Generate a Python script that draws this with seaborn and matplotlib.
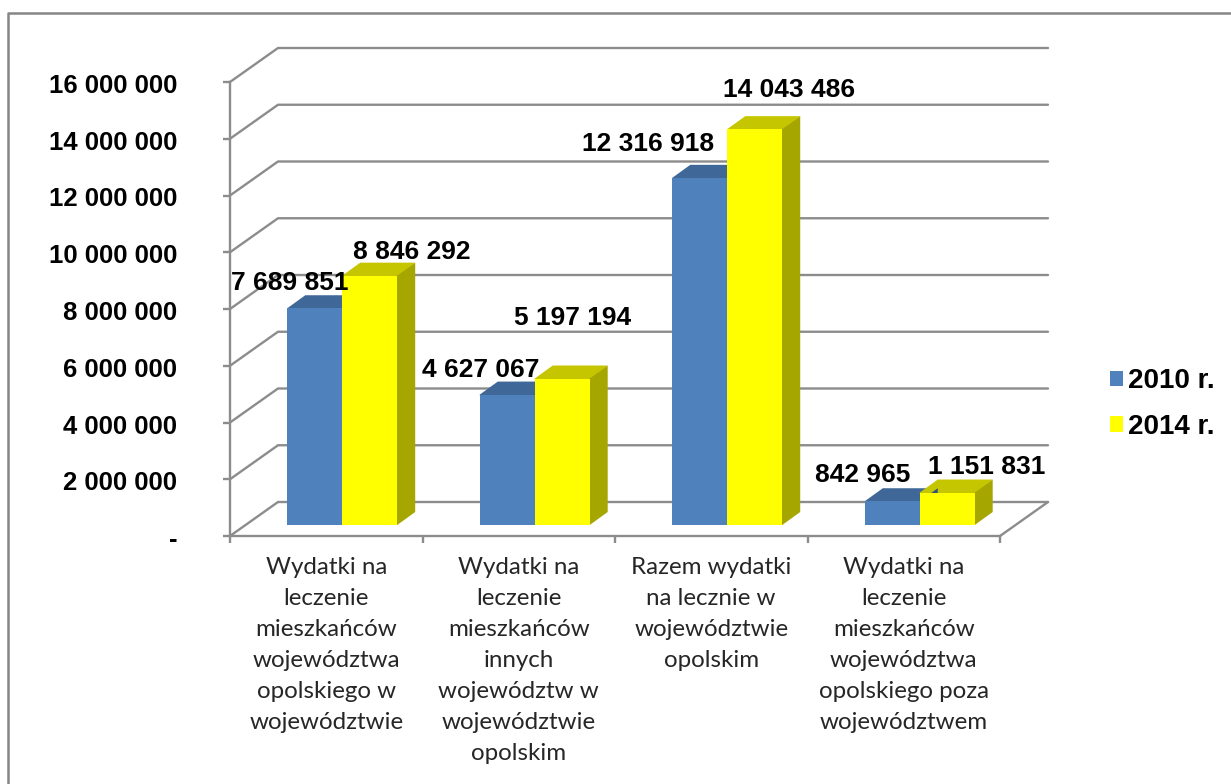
import pandas as pd
import numpy as np
import matplotlib.pyplot as plt
import seaborn as sns
from matplotlib.lines import Line2D
from matplotlib.patches import Polygon
from matplotlib.transforms import ScaledTranslation

categories = ["Wydatki na\nleczenie\nmieszkańców\nwojewództwa\nopolskiego w\nwojewództwie",
              "Wydatki na\nleczenie\nmieszkańców\ninnych\nwojewództw w\nwojewództwie\nopolskim",
              "Razem wydatki\nna lecznie w\nwojewództwie\nopolskim",
              "Wydatki na\nleczenie\nmieszkańców\nwojewództwa\nopolskiego poza\nwojewództwem"]
values_2010 = [7689851, 4627067, 12316918, 842965]
values_2014 = [8846292, 5197194, 14043486, 1151831]
series_names = ["2010 r.", "2014 r."]
yticks = [0, 2000000, 4000000, 6000000, 8000000, 10000000, 12000000, 14000000, 16000000]

# label offsets from the bar top centre, in pixels, hand moved like in the original
label_dx = [[-25, -27, -52, -30], [42, 10, 34, 39]]
label_dy = [[25, 25, 34, 26], [24, 61, 39, 26]]

W, H = 1231, 784
GREY = "#8c8c8c"

sns.set_theme(style="white")
plt.rcParams['font.family'] = ['Liberation Sans', 'DejaVu Sans']

df = pd.DataFrame({
    'kategoria': categories * 2,
    'rok': [series_names[0]] * 4 + [series_names[1]] * 4,
    'wartosc': values_2010 + values_2014,
})

fig = plt.figure(figsize=(W / 100, H / 100), dpi=100, facecolor='white')


def axes_px(left, right, bottom, top):
    return fig.add_axes([left / W, 1 - bottom / H, (right - left) / W, (bottom - top) / H])


# front plane: carries the real axes
front = axes_px(230, 1000, 536, 82)
# bar plane sits a bit inside the box
ax = axes_px(246, 1016, 525, 74)
ax.set_zorder(front.get_zorder() + 1)
ax.patch.set_alpha(0)
front.patch.set_alpha(0)

sns.barplot(data=df, x='kategoria', y='wartosc', hue='rok', order=categories, hue_order=series_names,
            palette=["#4F81BD", "#FFFF00"], width=0.571, gap=0, saturation=1, legend=True,
            linewidth=0, edgecolor='none', ax=ax)
ax.set_xlim(-0.5, 3.5)
ax.set_ylim(0, 16000000)
for side in ax.spines.values():
    side.set_visible(False)
ax.set_xticks([])
ax.set_yticks([])
ax.set_xlabel("")
ax.set_ylabel("")

front.set_xlim(-0.5, 3.5)
front.set_ylim(0, 16000000)
for name in ['top', 'right']:
    front.spines[name].set_visible(False)
for name in ['left', 'bottom']:
    front.spines[name].set_color(GREY)
    front.spines[name].set_linewidth(1.7)

front.set_yticks(yticks)
front.set_yticklabels([f"{v:,}".replace(",", " ") if v else "-" for v in yticks],
                      fontweight='bold', fontsize=18.5, color='black')
front.tick_params(axis='y', left=True, length=5, width=1.7, color=GREY, pad=33)
# the value labels sit a little lower than the ticks
for t in front.get_yticklabels():
    t.set_transform(t.get_transform() + ScaledTranslation(0, -1.5 / 100, fig.dpi_scale_trans))
front.set_xticks(np.arange(-0.5, 4, 1))
front.set_xticklabels([])
front.tick_params(axis='x', which='major', bottom=True, length=5, width=1.7, color=GREY)
front.set_xticks(np.arange(4), minor=True)
front.set_xticklabels(categories, minor=True, fontsize=17.4, color='#262626', family='Lato', linespacing=1.59)
front.tick_params(axis='x', which='minor', bottom=False, length=0, pad=15)

# walls: grid lines go back from the front axis then along the back plane
cat_per_px = 4 / 770
val_per_px = 16000000 / 451
wall_dx, wall_dy = 48 * cat_per_px, 34 * 16000000 / 454
for v in yticks:
    front.plot([-0.5, -0.5 + wall_dx, 3.5 + wall_dx], [v, v + wall_dy, v + wall_dy],
               color=GREY, lw=1.7, clip_on=False, zorder=1, solid_joinstyle='miter')
front.plot([3.5, 3.5 + wall_dx], [0, wall_dy], color=GREY, lw=1.7, clip_on=False, zorder=1)

# depth of the bars, polygons run 1px under the face so no seam shows
depth_dx, depth_dy = 18 * cat_per_px, 13 * val_per_px
top_cols = ["#3F6797", "#C6C600"]
side_cols = ["#33537A", "#A6A600"]
for i, cont in enumerate(ax.containers):
    for j, bar in enumerate(cont):
        x0, x1, h = bar.get_x(), bar.get_x() + bar.get_width(), bar.get_height()
        ax.add_patch(Polygon([(x0, h - val_per_px), (x0, h), (x0 + depth_dx, h + depth_dy),
                              (x1 + depth_dx, h + depth_dy), (x1, h - val_per_px)],
                             facecolor=top_cols[i], edgecolor='none', clip_on=False, zorder=0.5))
        ax.add_patch(Polygon([(x1 - cat_per_px, 0), (x1, 0), (x1 + depth_dx, depth_dy), (x1 + depth_dx, h + depth_dy),
                              (x1, h), (x1 - cat_per_px, h)],
                             facecolor=side_cols[i], edgecolor='none', clip_on=False, zorder=0.6))
        ax.annotate(f"{int(h):,}".replace(",", " "), xy=((x0 + x1) / 2, h),
                    xytext=(label_dx[i][j], label_dy[i][j]), textcoords='offset pixels',
                    ha='center', va='center', fontsize=19, fontweight='bold', color='black',
                    annotation_clip=False, zorder=5)

sns.move_legend(ax, 'center left', bbox_to_anchor=(1110 / W, 1 - 404 / H), bbox_transform=fig.transFigure,
                frameon=False, title=None, fontsize=20, handlelength=0.47, handleheight=0.47,
                handletextpad=0.18, labelspacing=0.71, borderaxespad=0, borderpad=0)
for t in ax.get_legend().get_texts():
    t.set_fontweight('bold')
    t.set_color('black')

# outer frame, only left and top fall inside the picture
fig.add_artist(Line2D([8 / W, 8 / W, 1], [0, 1 - 13 / H, 1 - 13 / H], color="#868686", lw=1.8))

fig.savefig('out.png', dpi=100)
